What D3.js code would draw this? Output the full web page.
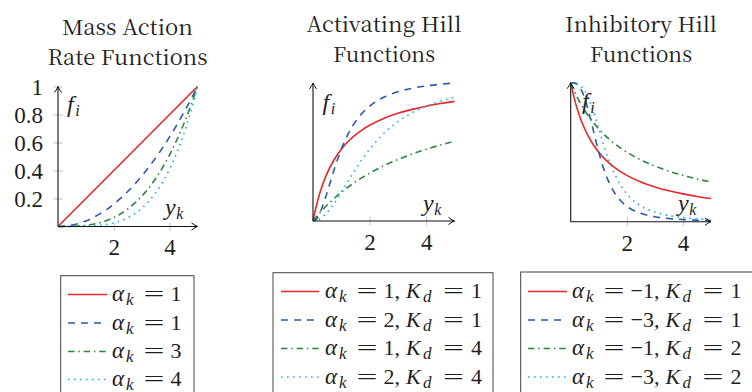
<!DOCTYPE html>
<html><head><meta charset="utf-8">
<script src="https://cdn.jsdelivr.net/npm/d3@7"></script>
<style>body{margin:0;background:#fff} svg{display:block}</style>
</head><body>
<svg id="c" width="752" height="392"></svg>
<script>
// ---- data ----
const xMass = [0,0.25,0.5,0.75,1,1.25,1.5,1.75,2,2.25,2.5,2.75,3,3.25,3.5,3.75,4,4.25,4.5,4.75,5];
const massRed   = [0,.05,.1,.15,.2,.25,.3,.35,.4,.45,.5,.55,.6,.65,.7,.75,.8,.85,.9,.95,1];
const massBlue  = [0,.0025,.01,.0225,.04,.0625,.09,.1225,.16,.2025,.25,.3025,.36,.4225,.49,.5625,.64,.7225,.81,.9025,1];
const massGreen = [0,.0001,.001,.0034,.008,.0156,.027,.0429,.064,.0911,.125,.1664,.216,.2746,.343,.4219,.512,.6141,.729,.8574,1];
const massCyan  = [0,0,.0001,.0005,.0016,.0039,.0081,.015,.0256,.041,.0625,.0915,.1296,.1785,.2401,.3164,.4096,.522,.6561,.8145,1];

const xHill = [0,0.1,0.25,0.5,0.75,1,1.25,1.5,1.75,2,2.5,3,3.5,4,4.5,5];
const actRed   = [0,.0909,.2,.3333,.4286,.5,.5556,.6,.6364,.6667,.7143,.75,.7778,.8,.8182,.8333];
const actBlue  = [0,.0099,.0588,.2,.36,.5,.6098,.6923,.7538,.8,.8621,.9,.9245,.9412,.9529,.9615];
const actGreen = [0,.0244,.0588,.1111,.1579,.2,.2381,.2727,.3043,.3333,.3846,.4286,.4667,.5,.5294,.5556];
const actCyan  = [0,.0025,.0154,.0588,.1233,.2,.2809,.36,.4337,.5,.6098,.6923,.7538,.8,.8351,.8621];

const inhRed   = [1,.9091,.8,.6667,.5714,.5,.4444,.4,.3636,.3333,.2857,.25,.2222,.2,.1818,.1667];
const inhBlue  = [1,.999,.9846,.8889,.7033,.5,.3386,.2286,.1573,.1111,.0602,.0357,.0228,.0154,.0108,.0079];
const inhGreen = [1,.9524,.8889,.8,.7273,.6667,.6154,.5714,.5333,.5,.4444,.4,.3636,.3333,.3077,.2857];
const inhCyan  = [1,.9995,.9922,.9412,.8258,.6667,.506,.3721,.2718,.2,.1135,.069,.0446,.0303,.0215,.0157];

const titleMass = ["Mass Action","Rate Functions"];
const titleAct  = ["Activating Hill","Functions"];
const titleInh  = ["Inhibitory Hill","Functions"];

const xTicks = [2,4];
const yTicksMass = [0.2,0.4,0.6,0.8,1];
const yTickLabelsMass = ["0.2","0.4","0.6","0.8","1"];

const legendMass = [["1"],["1"],["3"],["4"]];
const legendAct  = [["1","1"],["2","1"],["1","4"],["2","4"]];
const legendInh  = [["\u22121","1"],["\u22123","1"],["\u22121","2"],["\u22123","2"]];

// ---- styles ----
const colors = ["#e8262b","#2a5aa8","#2e8540","#1cb4e8"];
const dashes = [null,"7,6","6.5,3.8,1.5,3.8","1.6,4.4"];
const TITLE = "Noto Serif CJK SC";
const SER = "Liberation Serif";
const INK = "#1e1e1e";

const svg = d3.select("#c");

const panels = [
  {title:titleMass, tx:127.5, tb:[35,64.5], tw:[131,160], xr:[58,197.5], yr:[226.5,86.5], ymax:1,
   xs:xMass, series:[massRed,massBlue,massGreen,massCyan], yTicks:true,
   f:[67,112], yk:[165,215],
   leg:{x:60.7,y:275.7,w:133.3,lx:[68,107],tx:112,base:[301,329.5,358,386],items:legendMass}},
  {title:titleAct, tx:384, tb:[31.7,61.7], tw:[155,102], xr:[313,454.5], yr:[221,83], ymax:0.9615,
   xs:xHill, series:[actRed,actBlue,actGreen,actCyan], yTicks:false,
   f:[322.5,110], yk:[423,211],
   leg:{x:273,y:272.7,w:220,lx:[281,319],tx:325,base:[298,326.5,355,383.5],items:legendAct}},
  {title:titleInh, tx:641, tb:[31.7,61.7], tw:[152,102], xr:[570.7,711], yr:[221.7,82.7], ymax:1,
   xs:xHill, series:[inhRed,inhBlue,inhGreen,inhCyan], yTicks:false,
   f:[582,109], yk:[678,211],
   leg:{x:520.7,y:272,w:240,lx:[528,567],tx:572,base:[298,326.5,355,383.5],items:legendInh}}
];

// one text element per segment; returns right edge
function seg(g, x, y, s) {
  const t = g.append("text").attr("x",x).attr("y",y + (s.dy||0))
    .attr("font-family", SER).attr("font-style", s.it ? "italic" : "normal")
    .attr("font-size", s.size).attr("fill",INK).text(s.t);
  if (s.w) { t.attr("textLength",s.w).attr("lengthAdjust","spacingAndGlyphs"); return x + s.w; }
  return x + t.node().getComputedTextLength();
}

panels.forEach(p => {
  const g = svg.append("g");
  const x = d3.scaleLinear([0,5], p.xr);
  const y = d3.scaleLinear([0,p.ymax], p.yr);

  p.title.forEach((t,i) => {
    g.append("text").attr("x",p.tx).attr("y",p.tb[i]).attr("text-anchor","middle")
      .attr("font-family",TITLE).attr("font-size",21).attr("fill",INK)
      .attr("textLength",p.tw[i]).attr("lengthAdjust","spacingAndGlyphs").text(t);
  });

  const xa = g.append("g").attr("transform",`translate(0,${y(0)})`)
    .call(d3.axisBottom(x).tickValues(xTicks).tickSize(4.5).tickFormat(d3.format("d")));
  xa.select(".domain").remove();
  xa.attr("font-family",SER).attr("font-size",23);
  xa.selectAll("line").attr("y1",-4.5).attr("stroke","#b5b5b5").attr("stroke-width",0.8);
  xa.selectAll("text").attr("y",12.5).attr("dy","0.71em").attr("fill",INK);

  if (p.yTicks) {
    const ya = g.append("g").attr("transform",`translate(${x(0)},0)`)
      .call(d3.axisLeft(y).tickValues(yTicksMass).tickSize(4.5)
        .tickFormat((d,i)=>yTickLabelsMass[i]));
    ya.select(".domain").remove();
    ya.attr("font-family",SER).attr("font-size",23);
    ya.selectAll("line").attr("x1",4.5).attr("stroke","#b5b5b5").attr("stroke-width",0.8);
    ya.selectAll("text").attr("x",-15).attr("dy","0.36em").attr("fill",INK);
  }

  const line = d3.line().x((d,i)=>x(p.xs[i])).y(d=>y(d)).curve(d3.curveMonotoneX);
  p.series.forEach((s,i) => {
    g.append("path").attr("d",line(s)).attr("fill","none").attr("stroke",colors[i])
      .attr("stroke-width",1.6).attr("stroke-dasharray",dashes[i]);
  });

  const x0 = x(0), y0 = y(0), x1 = x(5), y1 = y(p.ymax);
  g.append("line").attr("x1",x0).attr("y1",y0).attr("x2",x1).attr("y2",y0)
    .attr("stroke","#111").attr("stroke-width",1.1);
  g.append("line").attr("x1",x0).attr("y1",y0).attr("x2",x0).attr("y2",y1)
    .attr("stroke","#111").attr("stroke-width",1.1);
  g.append("path").attr("d",`M${x1-6},${y0-3.6} Q${x1-2},${y0-0.6} ${x1},${y0} Q${x1-2},${y0+0.6} ${x1-6},${y0+3.6}`)
    .attr("fill","none").attr("stroke","#111").attr("stroke-width",1);
  g.append("path").attr("d",`M${x0-3.6},${y1+6} Q${x0-0.6},${y1+2} ${x0},${y1} Q${x0+0.6},${y1+2} ${x0+3.6},${y1+6}`)
    .attr("fill","none").attr("stroke","#111").attr("stroke-width",1);

  let e = seg(g, p.f[0], p.f[1], {t:"f",it:1,size:24});
  seg(g, e + 1.5, p.f[1], {t:"i",it:1,size:16,dy:4});
  e = seg(g, p.yk[0], p.yk[1], {t:"y",it:1,size:24});
  seg(g, e + 0.5, p.yk[1], {t:"k",it:1,size:16,dy:4});

  const L = p.leg;
  g.append("rect").attr("x",L.x).attr("y",L.y).attr("width",L.w).attr("height",140)
    .attr("fill","#fff").attr("stroke","#444").attr("stroke-width",1);
  L.items.forEach((it,i) => {
    const ly = L.base[i] - 6.5, b = L.base[i], X = L.tx;
    g.append("line").attr("x1",L.lx[0]).attr("x2",L.lx[1]).attr("y1",ly).attr("y2",ly)
      .attr("stroke",colors[i]).attr("stroke-width",1.6).attr("stroke-dasharray",dashes[i]);
    seg(g, X, b, {t:"\u03b1",it:1,size:23});
    seg(g, X + 14, b, {t:"k",it:1,size:17,dy:4});
    seg(g, X + 31.5, b, {t:"=",size:22,w:21});
    let e = seg(g, X + 58.5, b, {t:it[0],size:22});
    if (it.length > 1) {
      e = seg(g, e, b, {t:",",size:22});
      const K = e + 6;
      seg(g, K, b, {t:"K",it:1,size:22});
      seg(g, K + 17, b, {t:"d",it:1,size:17,dy:4});
      seg(g, K + 37, b, {t:"=",size:22,w:21});
      seg(g, K + 65, b, {t:it[1],size:22});
    }
  });
});
</script>
</body></html>
